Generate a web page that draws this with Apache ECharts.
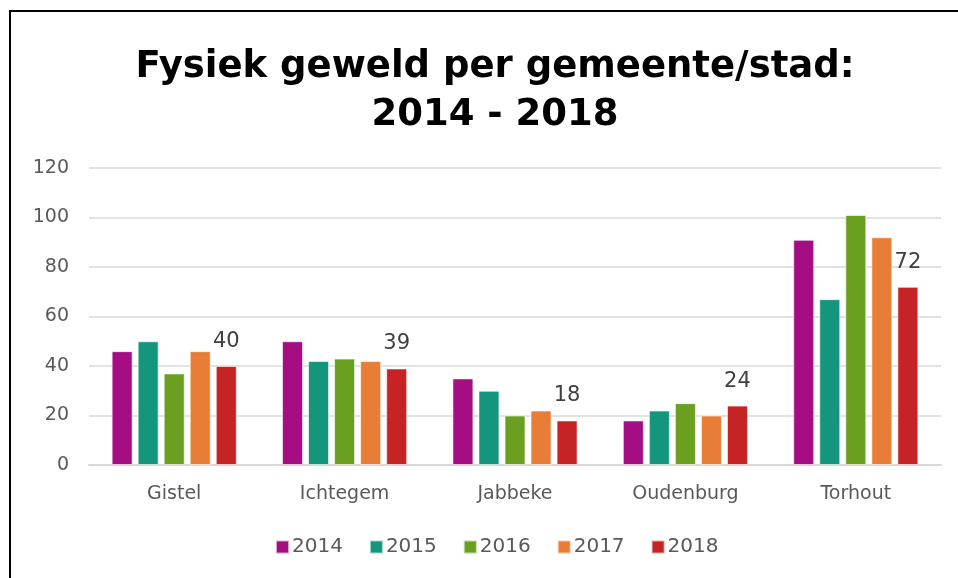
<!DOCTYPE html>
<html>
<head>
<meta charset="utf-8">
<script src="https://cdn.jsdelivr.net/npm/echarts@6/dist/echarts.min.js"></script>
<style>
  html, body { margin: 0; padding: 0; background: #fff; }
  #chart { width: 958px; height: 578px; }
</style>
</head>
<body>
<div id="chart"></div>
<script>
const categories = ['Gistel', 'Ichtegem', 'Jabbeke', 'Oudenburg', 'Torhout']
const years = ['2014', '2015', '2016', '2017', '2018']
const v2014 = [46, 50, 35, 18, 91]
const v2015 = [50, 42, 30, 22, 67]
const v2016 = [37, 43, 20, 25, 101]
const v2017 = [46, 42, 22, 20, 92]
const v2018 = [40, 39, 18, 24, 72]
const yTicks = [0, 20, 40, 60, 80, 100, 120]

const colors = ['#a50e82', '#14967c', '#6a9f1f', '#e87d37', '#c62324']
const values = [v2014, v2015, v2016, v2017, v2018]
const font = '"DejaVu Sans", sans-serif'

const chart = echarts.init(document.getElementById('chart'))
const option = {
  color: colors,
  animation: false,
  title: {
    text: 'Fysiek geweld per gemeente/stad:\n2014 - 2018',
    left: 490,
    textAlign: 'center',
    top: 38,
    textStyle: {
      fontFamily: '"DejaVu Sans", sans-serif',
      fontWeight: 'bold',
      fontSize: 37,
      lineHeight: 48,
      color: '#000'
    }
  },
  graphic: [
    {
      type: 'rect',
      shape: { x: 10, y: 11, width: 960, height: 580 },
      style: { fill: 'none', stroke: '#000', lineWidth: 2 }
    }
  ],
  legend: {
    bottom: 16,
    left: 270,
    itemWidth: 13,
    itemHeight: 13,
    itemGap: 26,
    icon: 'rect',
    textStyle: { fontFamily: font, fontSize: 20, color: '#595959', padding: [0, 0, 0, -2] }
  },
  grid: {
    left: 89,
    right: 17,
    top: 168,
    bottom: 113
  },
  xAxis: {
    type: 'category',
    data: categories,
    axisTick: { show: false },
    axisLine: { lineStyle: { color: '#d9d9d9', width: 2 } },
    axisLabel: { fontFamily: font, fontSize: 19, color: '#595959', margin: 20 }
  },
  yAxis: {
    type: 'value',
    min: yTicks[0],
    max: yTicks[yTicks.length - 1],
    interval: 20,
    axisLine: { show: false },
    axisTick: { show: false },
    axisLabel: { fontFamily: font, fontSize: 19, color: '#595959', margin: 20 },
    splitLine: { lineStyle: { color: '#d9d9d9', width: 1.5 } }
  },
  series: years.map((y, i) => ({
    name: y,
    type: 'bar',
    data: values[i],
    barWidth: 21,
    barGap: '24%',
    itemStyle: { borderColor: 'rgba(255,255,255,0.6)', borderWidth: 1 },
    label: {
      show: i === years.length - 1,
      position: 'top',
      distance: 14,
      fontFamily: font,
      fontSize: 21,
      color: '#404040'
    }
  }))
}
chart.setOption(option)
</script>
</body>
</html>
